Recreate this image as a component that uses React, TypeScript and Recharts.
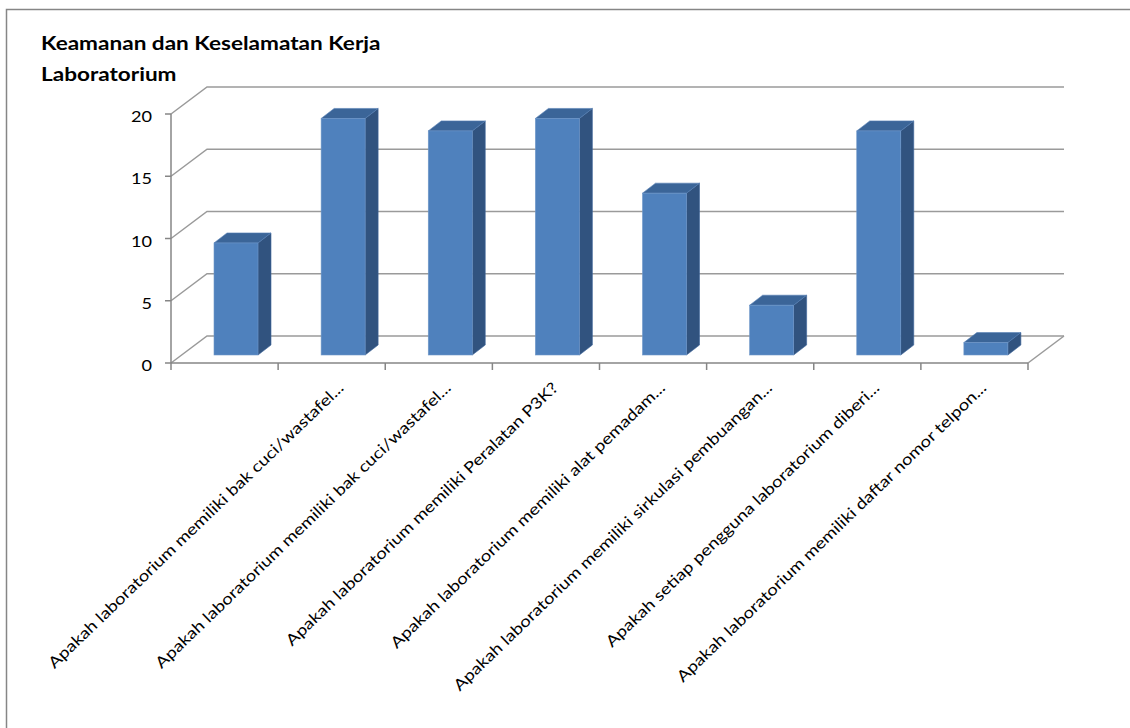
import React from 'react';
import { BarChart, Bar, XAxis, YAxis, CartesianGrid } from 'recharts';

// Label kategori (batang pertama tidak berlabel pada gambar asli)
const categories = [
  '',
  'Apakah laboratorium memiliki bak cuci/wastafel...',
  'Apakah laboratorium memiliki bak cuci/wastafel...',
  'Apakah laboratorium memiliki Peralatan P3K?',
  'Apakah laboratorium memiliki alat pemadam...',
  'Apakah laboratorium memiliki sirkulasi pembuangan...',
  'Apakah setiap pengguna laboratorium diberi...',
  'Apakah laboratorium memiliki daftar nomor telpon...',
];

const jumlah = [9, 19, 18, 19, 13, 4, 18, 1];

const yTicks = [0, 5, 10, 15, 20];

const titleLines = ['Keamanan dan Keselamatan Kerja', 'Laboratorium'];

const chartData = categories.map((name, i) => ({ name, jumlah: jumlah[i] }));

// Tata letak
const W = 1130;
const H = 728;
const PLOT_LEFT = 171;
const PLOT_RIGHT = 1028;
const PLOT_TOP = 114;
const PLOT_BOTTOM = 363;
const BAND = (PLOT_RIGHT - PLOT_LEFT) / categories.length;

// efek 3D: dinding belakang, posisi batang, kedalaman batang
const WALL_DX = 36;
const WALL_DY = 27;
const BAR_DX = 11;
const BAR_DY = 8;
const DEPTH_DX = 13;
const DEPTH_DY = 10;

const GRID = '#9a9a9a';
const AXIS = '#868686';
const FONT = 'Lato, "Open Sans", sans-serif';
// huruf asli (Calibri) lebih lebar dari Lato
const STRETCH = 1.2;

// Garis grid perspektif: dinding samping + dinding belakang
const gridLine = (props: any) => {
  const { x1, y1, x2, key } = props;
  const bottom = Math.abs(y1 - PLOT_BOTTOM) < 1;
  return (
    <g key={key}>
      <path
        d={`M${x1},${y1} L${x1 + WALL_DX},${y1 - WALL_DY} L${x2 + WALL_DX},${y1 - WALL_DY}`}
        fill="none"
        stroke={GRID}
        strokeWidth={1.5}
      />
      {bottom && (
        <line x1={x2} y1={y1} x2={x2 + WALL_DX} y2={y1 - WALL_DY} stroke={GRID} strokeWidth={1.5} />
      )}
    </g>
  );
};

// Batang 3D
const Bar3D = (props: any) => {
  const { x, y, width, height } = props;
  if (height == null || width == null) return null;
  const fx = x + BAR_DX;
  const fy = y - BAR_DY;
  const w = width;
  const h = height;
  const side = `${fx + w},${fy} ${fx + w + DEPTH_DX},${fy - DEPTH_DY} ${fx + w + DEPTH_DX},${fy + h - DEPTH_DY} ${fx + w},${fy + h}`;
  const top = `${fx},${fy} ${fx + DEPTH_DX},${fy - DEPTH_DY} ${fx + w + DEPTH_DX},${fy - DEPTH_DY} ${fx + w},${fy}`;
  return (
    <g>
      <polygon points={side} fill="#31537f" stroke="#3d659a" strokeWidth={0.6} />
      <polygon points={top} fill="#3b6598" stroke="#5580b5" strokeWidth={0.6} />
      <rect x={fx} y={fy} width={w} height={h} fill="#4f81bd" stroke="#6f97c8" strokeWidth={0.6} />
    </g>
  );
};

const CategoryTick = (props: any) => {
  const { x, y, payload, index } = props;
  const tx = x + BAR_DX + 2;
  const ty = y + 26;
  const last = index === categories.length - 1;
  return (
    <g>
      <line x1={x - BAND / 2} y1={y} x2={x - BAND / 2} y2={y + 7} stroke={AXIS} strokeWidth={1.5} />
      {last && <line x1={x + BAND / 2} y1={y} x2={x + BAND / 2} y2={y + 7} stroke={AXIS} strokeWidth={1.5} />}
      {payload.value && (
        <text
          x={0}
          y={0}
          textAnchor="end"
          fontSize={15.5}
          fontFamily={FONT}
          fill="#000"
          transform={`translate(${tx},${ty}) rotate(-44) scale(${STRETCH},1)`}
        >
          {payload.value}
        </text>
      )}
    </g>
  );
};

const ValueTick = (props: any) => {
  const { x, y, payload } = props;
  return (
    <text
      x={0}
      y={0}
      textAnchor="end"
      fontSize={15.5}
      fontFamily={FONT}
      fill="#000"
      transform={`translate(${x},${y + 8}) scale(1.17,1)`}
    >
      {payload.value}
    </text>
  );
};

export default function App() {
  return (
    <div style={{ position: 'absolute', left: 0, top: 0, width: W, height: H, background: '#fff', overflow: 'hidden' }}>
      <svg width={W} height={H} style={{ position: 'absolute', left: 0, top: 0 }}>
        <rect x={6.5} y={9.5} width={W + 20} height={H + 20} fill="#fff" stroke={AXIS} strokeWidth={1.5} />
        {titleLines.map((t, i) => (
          <text
            key={i}
            x={0}
            y={0}
            fontSize={18.5}
            fontWeight="bold"
            fontFamily={FONT}
            fill="#000"
            transform={`translate(41,${50 + i * 31}) scale(1.22,1)`}
          >
            {t}
          </text>
        ))}
      </svg>
      <div style={{ position: 'absolute', left: 0, top: 0 }}>
        <BarChart
          width={W}
          height={H}
          data={chartData}
          margin={{ top: PLOT_TOP, right: W - PLOT_RIGHT, bottom: 65, left: PLOT_LEFT - 60 }}
        >
          <CartesianGrid horizontal={gridLine} vertical={false} />
          <XAxis
            dataKey="name"
            interval={0}
            height={H - PLOT_BOTTOM - 65}
            tickSize={0}
            tickMargin={0}
            tickLine={false}
            axisLine={{ stroke: AXIS, strokeWidth: 1.5 }}
            tick={<CategoryTick />}
          />
          <YAxis
            width={60}
            domain={[0, 20]}
            ticks={yTicks}
            tickSize={6}
            tickMargin={13}
            axisLine={{ stroke: AXIS, strokeWidth: 1.5 }}
            tickLine={{ stroke: AXIS, strokeWidth: 1.5 }}
            tick={<ValueTick />}
          />
          <Bar dataKey="jumlah" barSize={44} shape={<Bar3D />} isAnimationActive={false} />
        </BarChart>
      </div>
    </div>
  );
}
